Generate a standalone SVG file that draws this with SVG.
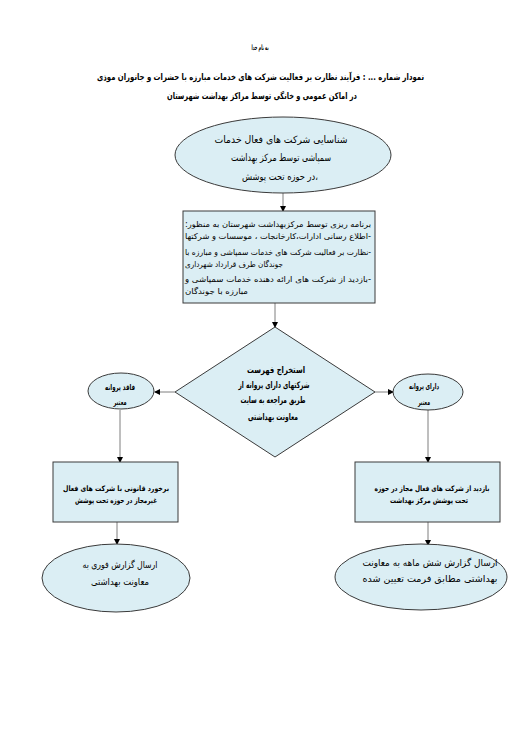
<svg xmlns="http://www.w3.org/2000/svg" width="527" height="748" viewBox="0 0 527 748">
<style>
.shape{fill:#DBEEF4;stroke:#3a3a3a;stroke-width:1}
.t{font-family:"DejaVu Sans",sans-serif;font-size:9px;fill:#000}
.c{text-anchor:middle}
.l{text-anchor:start}
.b{font-weight:bold}
.conn line{stroke:#7f7f7f;stroke-width:1;fill:none}
</style>
<defs>
<marker id="ah" markerWidth="6" markerHeight="6" refX="5" refY="3" orient="auto" markerUnits="userSpaceOnUse">
<path d="M0,0 L6,3 L0,6 Z" fill="#000"/>
</marker>
</defs>
<rect width="527" height="748" fill="#fff"/>
<g id="title">
<text class="t c b" x="260" y="50" style="font-size:7.5px" textLength="17" lengthAdjust="spacingAndGlyphs">به نام خدا</text>
<text class="t c b" x="260.5" y="80" style="font-size:9px" textLength="327" lengthAdjust="spacingAndGlyphs">نمودار شماره ... : فرآیند نظارت بر فعالیت شرکت های خدمات مبارزه با حشرات و جانوران موذی</text>
<text class="t c b" x="262" y="99" style="font-size:9px" textLength="190" lengthAdjust="spacingAndGlyphs">در اماکن عمومی و خانگی توسط مراکز بهداشت شهرستان</text>
</g>
<g class="conn">
<line x1="283" y1="193" x2="283" y2="211" marker-end="url(#ah)"/>
<line x1="275" y1="303" x2="275" y2="327" marker-end="url(#ah)"/>
<line x1="175" y1="392" x2="155" y2="392" marker-end="url(#ah)"/>
<line x1="375" y1="392" x2="393" y2="392" marker-end="url(#ah)"/>
<line x1="120" y1="410" x2="120" y2="462" marker-end="url(#ah)"/>
<line x1="428" y1="410" x2="428" y2="462" marker-end="url(#ah)"/>
<line x1="117" y1="522" x2="117" y2="544" marker-end="url(#ah)"/>
<line x1="428" y1="522" x2="428" y2="545" marker-end="url(#ah)"/>
</g>
<g id="n1">
<ellipse class="shape" cx="283" cy="155" rx="108" ry="38"/>
<text class="t c" x="281" y="143" style="font-size:10px" textLength="133" lengthAdjust="spacingAndGlyphs">شناسایی شرکت های فعال خدمات</text>
<text class="t c" x="281" y="161" style="font-size:10px" textLength="100" lengthAdjust="spacingAndGlyphs">سمپاشی توسط مرکز بهداشت</text>
<text class="t c" x="280" y="180" style="font-size:10px" textLength="76" lengthAdjust="spacingAndGlyphs">در حوزه تحت پوشش،</text>
</g>
<g id="n2">
<rect class="shape" x="183" y="211" width="192" height="92"/>
<text class="t l" x="185" y="227" style="font-size:8px" textLength="186" lengthAdjust="spacingAndGlyphs">:برنامه ریزی توسط مرکزبهداشت شهرستان به منظور</text>
<text class="t l" x="185" y="239" style="font-size:8px" textLength="186" lengthAdjust="spacingAndGlyphs">اطلاع رسانی ادارات،کارخانجات ، موسسات و شرکتها-</text>
<text class="t l" x="185" y="255" style="font-size:8px" textLength="186" lengthAdjust="spacingAndGlyphs">نظارت بر فعالیت شرکت های خدمات سمپاشی و مبارزه با-</text>
<text class="t l" x="185" y="267" style="font-size:8px" textLength="98" lengthAdjust="spacingAndGlyphs">جوندگان طرف قرارداد شهرداری</text>
<text class="t l" x="185" y="282" style="font-size:8px" textLength="186" lengthAdjust="spacingAndGlyphs">بازدید از شرکت های ارائه دهنده خدمات سمپاشی و-</text>
<text class="t l" x="185" y="294" style="font-size:8px" textLength="63" lengthAdjust="spacingAndGlyphs">مبارزه با جوندگان</text>
</g>
<g id="n3">
<polygon class="shape" points="275,327 375,392 275,457 175,392"/>
<text class="t c b" x="276" y="373" style="font-size:9px" textLength="58" lengthAdjust="spacingAndGlyphs">استخراج فهرست</text>
<text class="t c b" x="274" y="388" style="font-size:9px" textLength="71" lengthAdjust="spacingAndGlyphs">شرکتهای دارای پروانه از</text>
<text class="t c b" x="273" y="403" style="font-size:9px" textLength="65" lengthAdjust="spacingAndGlyphs">طریق مراجعه به سایت</text>
<text class="t c b" x="273" y="420" style="font-size:9px" textLength="50" lengthAdjust="spacingAndGlyphs">معاونت بهداشتی</text>
</g>
<g id="n4">
<ellipse class="shape" cx="121" cy="391" rx="33" ry="18"/>
<text class="t c b" x="120" y="390" style="font-size:8px" textLength="30" lengthAdjust="spacingAndGlyphs">فاقد پروانه</text>
<text class="t c b" x="120" y="405" style="font-size:8px" textLength="13" lengthAdjust="spacingAndGlyphs">معتبر</text>
</g>
<g id="n5">
<ellipse class="shape" cx="428" cy="392" rx="35" ry="18"/>
<text class="t c b" x="424" y="389" style="font-size:8px" textLength="30" lengthAdjust="spacingAndGlyphs">دارای پروانه</text>
<text class="t c b" x="424" y="405" style="font-size:8px" textLength="12" lengthAdjust="spacingAndGlyphs">معتبر</text>
</g>
<g id="n6">
<rect class="shape" x="53" y="462" width="125" height="60"/>
<text class="t c b" x="116" y="491" style="font-size:7.5px" textLength="106" lengthAdjust="spacingAndGlyphs">برخورد قانونی با شرکت های فعال</text>
<text class="t c b" x="116" y="503" style="font-size:7.5px" textLength="82" lengthAdjust="spacingAndGlyphs">غیرمجاز در حوزه تحت پوشش</text>
</g>
<g id="n7">
<rect class="shape" x="355" y="462" width="145" height="60"/>
<text class="t c b" x="432" y="491" style="font-size:7.5px" textLength="115" lengthAdjust="spacingAndGlyphs">بازدید از شرکت های فعال مجاز در حوزه</text>
<text class="t c b" x="429" y="503" style="font-size:7.5px" textLength="78" lengthAdjust="spacingAndGlyphs">تحت پوشش مرکز بهداشت</text>
</g>
<g id="n8">
<ellipse class="shape" cx="116" cy="578" rx="74" ry="34"/>
<text class="t c" x="120" y="568" style="font-size:9.5px" textLength="75" lengthAdjust="spacingAndGlyphs">ارسال گزارش فوری به</text>
<text class="t c" x="120" y="585" style="font-size:9.5px" textLength="58" lengthAdjust="spacingAndGlyphs">معاونت بهداشتی</text>
</g>
<g id="n9">
<ellipse class="shape" cx="421" cy="577" rx="86" ry="33"/>
<text class="t c" x="430" y="566" style="font-size:9.5px" textLength="135" lengthAdjust="spacingAndGlyphs">ارسال گزارش شش ماهه به معاونت</text>
<text class="t c" x="430" y="582" style="font-size:9.5px" textLength="135" lengthAdjust="spacingAndGlyphs">بهداشتی مطابق فرمت تعیین شده</text>
</g>
</svg>
